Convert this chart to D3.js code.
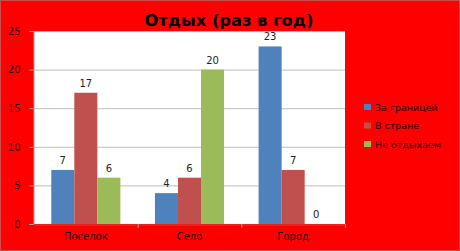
<!DOCTYPE html>
<html><head><meta charset="utf-8">
<script src="https://cdn.jsdelivr.net/npm/d3@7"></script>
<style>body{margin:0;background:#fff}svg{display:block}text{font-family:"DejaVu Sans",sans-serif}</style>
</head><body>
<svg id="c" width="460" height="251"></svg>
<script>
const categories = ["Поселок", "Село", "Город"];
const seriesNames = ["За границей", "В стране", "Не отдыхаем"];
const seriesValues = [
  [7, 4, 23],
  [17, 6, 7],
  [6, 20, 0]
];
const yTicks = [0, 5, 10, 15, 20, 25];
const colors = ["#4F81BD", "#C0504D", "#9BBB59"];

const svg = d3.select("#c");
const W = 460, H = 251;
const m = {l: 34, r: 115, t: 31, b: 27};
svg.append("rect").attr("width", W).attr("height", H).attr("fill", "#FF0000");
svg.append("rect").attr("x", 0.5).attr("y", 0.5).attr("width", W - 1).attr("height", H - 1)
  .attr("fill", "none").attr("stroke", "#999").attr("stroke-dasharray", "1,1");

const x0 = d3.scaleBand().domain(categories).range([m.l, W - m.r]).paddingInner(0).paddingOuter(0);
const x1 = d3.scaleBand().domain(d3.range(seriesNames.length)).range([0, x0.bandwidth()]).paddingInner(0).paddingOuter(0.75);
const y = d3.scaleLinear().domain([0, 25]).range([H - m.b, m.t]);

svg.append("rect").attr("x", m.l).attr("y", m.t).attr("width", W - m.r - m.l).attr("height", H - m.b - m.t).attr("fill", "#fff");

svg.append("g").selectAll("line").data(yTicks.filter(d => d > 0)).join("line")
  .attr("x1", m.l).attr("x2", W - m.r).attr("y1", d => y(d) + 0.5).attr("y2", d => y(d) + 0.5)
  .attr("stroke", "#bdbdbd");

const yAxis = svg.append("g").attr("transform", `translate(${m.l - 0.5},0)`)
  .call(d3.axisLeft(y).tickValues(yTicks).tickSize(4).tickPadding(9));
yAxis.select(".domain").attr("stroke", "#a0a0a0");
yAxis.selectAll(".tick line").attr("stroke", "#a0a0a0");
yAxis.selectAll("text").attr("font-size", 10).attr("fill", "#2a0000");

const xAxis = svg.append("g").attr("transform", `translate(0,${H - m.b + 0.5})`)
  .call(d3.axisBottom(x0).tickSize(0).tickPadding(8));
xAxis.select(".domain").attr("stroke", "#d04040");
xAxis.selectAll("text").attr("font-size", 10).attr("fill", "#2a0000");
svg.append("g").selectAll("line").data(categories).join("line")
  .attr("x1", d => x0(d) + x0.bandwidth() + 0.5).attr("x2", d => x0(d) + x0.bandwidth() + 0.5)
  .attr("y1", H - m.b).attr("y2", H - m.b + 4).attr("stroke", "#a0a0a0");

const g = svg.append("g");
seriesNames.forEach((s, si) => {
  g.append("g").selectAll("rect").data(categories).join("rect")
    .attr("x", d => x0(d) + x1(si))
    .attr("y", (d, ci) => y(seriesValues[si][ci]))
    .attr("width", x1.bandwidth())
    .attr("height", (d, ci) => y(0) - y(seriesValues[si][ci]))
    .attr("fill", colors[si]);
  g.append("g").selectAll("text").data(categories).join("text")
    .attr("x", d => x0(d) + x1(si) + x1.bandwidth() / 2)
    .attr("y", (d, ci) => y(seriesValues[si][ci]) - 6)
    .attr("text-anchor", "middle").attr("font-size", 10).attr("fill", "#222")
    .text((d, ci) => seriesValues[si][ci]);
});

svg.append("text").attr("x", 229).attr("y", 26).attr("text-anchor", "middle")
  .attr("font-size", 16.3).attr("font-weight", "bold").attr("fill", "#000")
  .text("Отдых (раз в год)");

const lg = svg.append("g").selectAll("g").data(seriesNames).join("g")
  .attr("transform", (d, i) => `translate(364,${104 + i * 18.5})`);
lg.append("rect").attr("width", 7).attr("height", 6).attr("fill", (d, i) => colors[i]);
lg.append("text").attr("x", 11).attr("y", 6.5).attr("font-size", 9.5).attr("fill", "#2a0000").text(d => d);
</script>
</body></html>
